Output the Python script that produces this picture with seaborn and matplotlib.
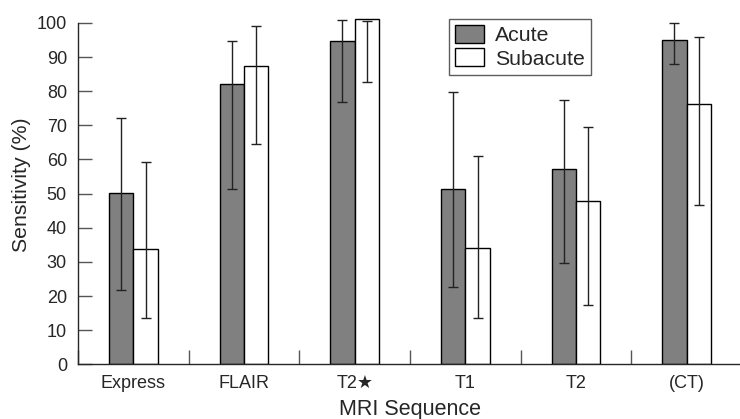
import numpy as np
import pandas as pd
import matplotlib.pyplot as plt
import seaborn as sns
from matplotlib.patches import Patch
from matplotlib.ticker import FixedLocator

# values
sequences = ["Express", "FLAIR", "T2★", "T1", "T2", "(CT)"]
acute = [50.2, 82.0, 94.8, 51.3, 57.3, 95.0]
acute_lo = [21.9, 51.3, 76.8, 22.6, 29.7, 88.0]
acute_hi = [72.3, 94.8, 101.0, 79.7, 77.5, 100.0]
subacute = [33.8, 87.4, 101.2, 34.2, 47.8, 76.4]
subacute_lo = [13.7, 64.4, 82.8, 13.7, 17.4, 46.6]
subacute_hi = [59.4, 99.0, 100.6, 60.9, 69.5, 95.8]

sns.set_style("ticks")
plt.rcParams['font.family'] = ['Liberation Sans', 'DejaVu Sans']

df = pd.DataFrame({
    "seq": sequences * 2,
    "group": ["Acute"] * len(sequences) + ["Subacute"] * len(sequences),
    "sens": acute + subacute,
    "lo": acute_lo + subacute_lo,
    "hi": acute_hi + subacute_hi,
})

fig = plt.figure(figsize=(7.4, 4.19), dpi=100)
ax = fig.add_axes([78 / 740, 54.7 / 419, 664 / 740, 358.4 / 419])

sns.barplot(data=df, x="seq", y="sens", hue="group", order=sequences,
            hue_order=["Acute", "Subacute"],
            palette={"Acute": "#808080", "Subacute": "white"},
            width=0.44, gap=0, errorbar=None, edgecolor="black",
            linewidth=1.0, legend=False, ax=ax)

# asymmetric error bars (lo to hi) at the bar centres
for patch, (_, row) in zip(ax.patches, df.iterrows()):
    xc = patch.get_x() + patch.get_width() / 2
    ax.errorbar([xc], [row["lo"]],
                yerr=[[0], [row["hi"] - row["lo"]]],
                fmt="none", ecolor="#222222", elinewidth=1.0,
                capsize=3.8, capthick=1.0)

ax.set_xlim(-0.5, 5.5)
ax.set_ylim(0, 105)
ax.set_yticks(range(0, 101, 10))
ax.spines['left'].set_bounds(0, 100)
ax.spines['top'].set_visible(False)
ax.spines['right'].set_visible(False)
for sp in ax.spines.values():
    sp.set_linewidth(1.0)

ax.xaxis.set_minor_locator(FixedLocator(np.arange(-0.5, 5.6, 1.0)))
ax.tick_params(axis='x', which='major', length=0, pad=8, labelsize=13)
ax.tick_params(axis='x', which='minor', direction='in', length=10, width=1.0,
               color="#555555")
ax.tick_params(axis='y', direction='in', length=10, width=1.0, pad=8,
               labelsize=13, color="#555555")

ax.set_xlabel("MRI Sequence", fontsize=15.5, labelpad=5)
ax.set_ylabel("Sensitivity (%)", fontsize=15.3, labelpad=4)

handles = [Patch(facecolor="#808080", edgecolor="black", label="Acute"),
           Patch(facecolor="white", edgecolor="black", label="Subacute")]
leg = fig.legend(handles=handles, loc="upper left",
                 bbox_to_anchor=(448.7 / 740, 1 - 18.7 / 419),
                 fontsize=15.3, frameon=True, fancybox=False,
                 handlelength=1.36, handleheight=0.9, handletextpad=0.5,
                 labelspacing=0.15, borderpad=0.3, borderaxespad=0)
leg.get_frame().set_edgecolor("#333333")
leg.get_frame().set_linewidth(1.0)

fig.savefig("out.png", dpi=100)
